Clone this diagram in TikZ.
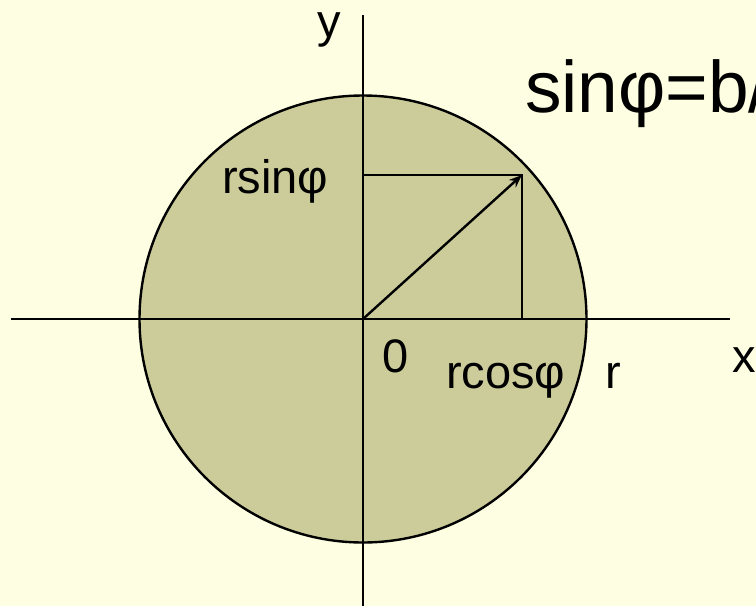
\documentclass[tikz,border=0pt]{standalone}
\usepackage{fontspec}
\setmainfont{Liberation Sans}
\usetikzlibrary{arrows.meta}
\definecolor{bgyellow}{HTML}{FEFEE2}
\definecolor{diskfill}{HTML}{CCCC9B}
\tikzset{
  lbl/.style={anchor=base west, inner sep=0pt, outer sep=0pt, font=\fontsize{47}{52}\selectfont},
  biglbl/.style={anchor=base west, inner sep=0pt, outer sep=0pt, font=\fontsize{73}{80}\selectfont},
  ln/.style={line width=2.4pt, black},
}
\begin{document}
\begin{tikzpicture}[x=1pt,y=-1pt]
\useasboundingbox (0,0) rectangle (756,606);
\clip (0,0) rectangle (756,606);
\fill[bgyellow] (0,0) rectangle (756,606);
\coordinate (O) at (363,319);
\coordinate (P) at (522,175);
\coordinate (Px) at (522,319);
\coordinate (Py) at (363,175);
\coordinate (xl) at (11,319);
\coordinate (xr) at (730,319);
\coordinate (yt) at (363,15);
\coordinate (yb) at (363,606);
\fill[diskfill] (O) circle[radius=223.5pt];
\draw[ln] (O) circle[radius=223.5pt];
\draw[ln] (xl) -- (xr);
\draw[ln] (yt) -- (yb);
\draw[ln] (Py) -- (P) -- (Px);
\draw[ln, -{Stealth[length=13pt,width=10pt]}] (O) -- (P);
\node[lbl] (ylab) at (317,37) {y};
\node[lbl] (rsin) at (222,193) {rsinφ};
\node[lbl] (zero) at (382,372) {0};
\node[lbl] (rcos) at (446,388) {rcosφ};
\node[lbl] (rlab) at (605,388) {r};
\node[lbl] (xlab) at (732,372) {x};
\node[biglbl] (eq) at (525,112) {sinφ=b/};
\end{tikzpicture}
\end{document}
